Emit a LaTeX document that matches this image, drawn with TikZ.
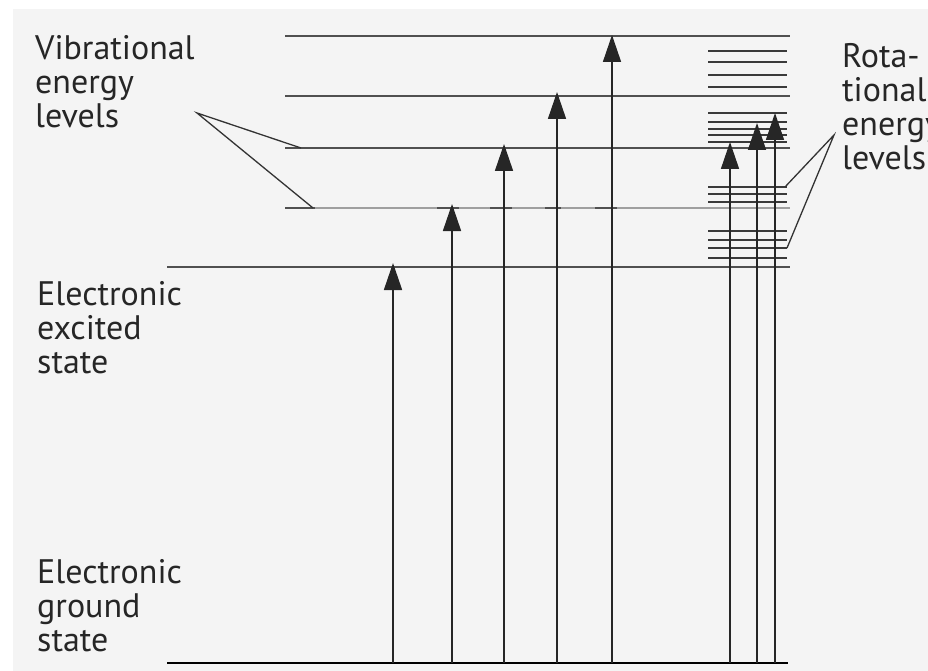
\documentclass[tikz,border=0pt]{standalone}
\usepackage{fontspec}
\setmainfont{PT Sans}
\usetikzlibrary{arrows.meta}
\definecolor{paper}{HTML}{F4F4F4}
\definecolor{levelc}{HTML}{505050}
\definecolor{rotc}{HTML}{3A3A3A}
\definecolor{inkc}{HTML}{262626}
\tikzset{
  level/.style={draw=levelc,line width=1.6pt},
  faint/.style={draw=levelc!55,line width=1.4pt},
  groundline/.style={draw=black,line width=2pt},
  rotline/.style={draw=rotc,line width=1.5pt},
  trans/.style={draw=black!85,line width=1.6pt,-{Triangle[length=27pt,width=18pt]}},
  pointer/.style={draw=black!80,line width=1.3pt},
  statetext/.style={font=\fontsize{34}{34}\selectfont,align=left,inner sep=0pt,
    anchor=north west,text=inkc},
}
\begin{document}
\begin{tikzpicture}[x=1pt,y=-1pt]
  \useasboundingbox (0,0) rectangle (928,671);
  \fill[paper] (13,9) rectangle (928,671);
  % electronic states
  \coordinate (g0) at (167,663); \coordinate (g1) at (788,663);
  \coordinate (e0) at (167,267); \coordinate (e1) at (790,267);
  \draw[groundline] (g0)--(g1);
  \draw[level] (e0)--(e1);
  % vibrational levels
  \foreach \n/\y in {2/148,3/96,4/36}{
    \coordinate (v\n a) at (285,\y); \coordinate (v\n b) at (790,\y);
    \draw[level] (v\n a)--(v\n b);
  }
  \coordinate (v1a) at (285,208); \coordinate (v1b) at (790,208);
  \draw[faint] (v1a)--(v1b);
  \foreach \a/\b in {285/315,437/459,490/512,545/561,595/617}
    \draw[level] (\a,208)--(\b,208);
  % rotational levels
  \foreach \y in {51,62,75,87,113,122,129,135,142,187,194,202,231,240,248,258}
    \draw[rotline] (708,\y)--(787,\y);
  % transitions
  \foreach \x/\y [count=\i] in {393/263,452/204,504/144,557/92,612/35,730/142,757/123,775/113}{
    \coordinate (b\i) at (\x,663); \coordinate (t\i) at (\x,\y);
    \draw[trans] (b\i)--(t\i);
  }
  % labels
  \node[statetext] (vibtxt) at (35,35) {Vibrational\\energy\\levels};
  \node[statetext] (rottxt) at (842,43) {Rota-\\tional\\energy\\levels};
  \node[statetext] (exctxt) at (37,281) {Electronic\\excited\\state};
  \node[statetext] (gndtxt) at (37,559) {Electronic\\ground\\state};
  % pointers
  \coordinate (vibp) at (197,113);
  \coordinate (vibp1) at (301,148); \coordinate (vibp2) at (313,208);
  \draw[pointer] (vibp1)--(vibp)--(vibp2);
  \coordinate (rotp) at (834,135);
  \coordinate (rotp1) at (785,187); \coordinate (rotp2) at (787,248);
  \draw[pointer] (rotp1)--(rotp)--(rotp2);
\end{tikzpicture}
\end{document}
